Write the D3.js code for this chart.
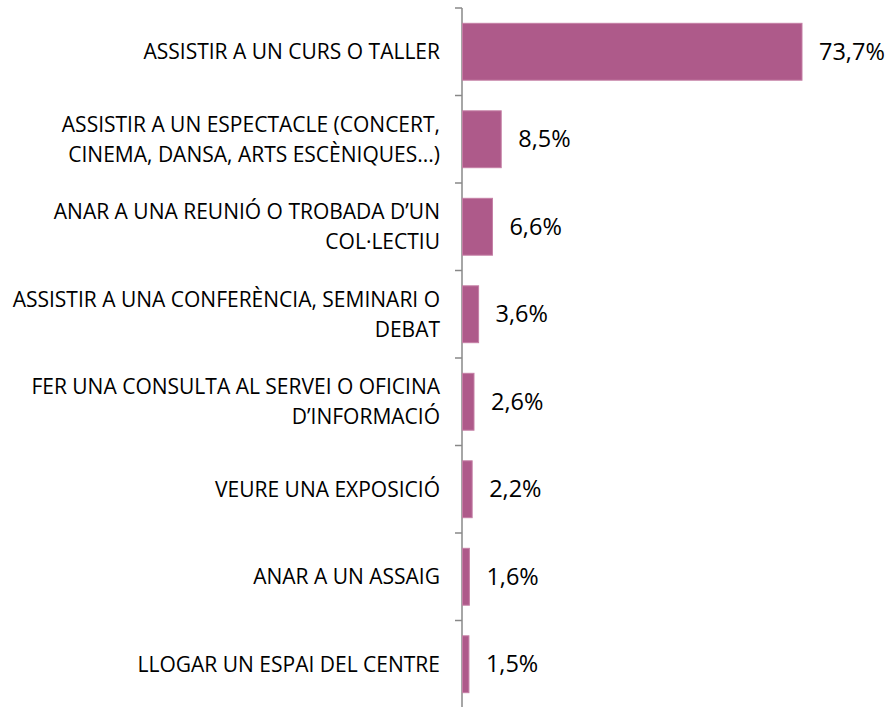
<!DOCTYPE html>
<html><head><meta charset="utf-8">
<script src="https://cdn.jsdelivr.net/npm/d3@7"></script>
<style>body{margin:0;background:#fff}svg text{font-family:"Open Sans",sans-serif;fill:#000}</style>
</head><body><svg id="c" width="889" height="707"></svg>
<script>
const categories = [
  ["ASSISTIR A UN CURS O TALLER"],
  ["ASSISTIR A UN ESPECTACLE (CONCERT,", "CINEMA, DANSA, ARTS ESCÈNIQUES...)"],
  ["ANAR A UNA REUNIÓ O TROBADA D’UN", "COL·LECTIU"],
  ["ASSISTIR A UNA CONFERÈNCIA, SEMINARI O", "DEBAT"],
  ["FER UNA CONSULTA AL SERVEI O OFICINA", "D’INFORMACIÓ"],
  ["VEURE UNA EXPOSICIÓ"],
  ["ANAR A UN ASSAIG"],
  ["LLOGAR UN ESPAI DEL CENTRE"]
];
const values = [73.7, 8.5, 6.6, 3.6, 2.6, 2.2, 1.6, 1.5];
const valueLabels = ["73,7%", "8,5%", "6,6%", "3,6%", "2,6%", "2,2%", "1,6%", "1,5%"];

const svg = d3.select("#c");
const x0 = 462;
const x = d3.scaleLinear().domain([0, 73.7]).range([x0, 802]);
const y = d3.scaleBand().domain(d3.range(categories.length)).range([8, 708]).paddingInner(0.35).paddingOuter(0.175);
const yb = d3.scaleLinear().domain([0, categories.length]).range([8, 708]);

svg.append("line").attr("x1", x0).attr("x2", x0).attr("y1", 8).attr("y2", 708)
  .attr("stroke", "#888").attr("stroke-width", 1.5);
svg.selectAll("line.tick").data(d3.range(categories.length + 1)).join("line")
  .attr("class", "tick").attr("x1", x0 - 7).attr("x2", x0)
  .attr("y1", d => yb(d)).attr("y2", d => yb(d))
  .attr("stroke", "#888").attr("stroke-width", 1.5);

svg.selectAll("rect.bar").data(values).join("rect")
  .attr("class", "bar")
  .attr("x", x0 + 0.5).attr("y", (d, i) => y(i))
  .attr("width", d => x(d) - x0 - 0.5).attr("height", y.bandwidth())
  .attr("fill", "#ae5a8a").attr("stroke", "#c47fa5").attr("stroke-width", 1);

svg.selectAll("text.val").data(values).join("text")
  .attr("class", "val")
  .attr("x", d => x(d) + 17).attr("y", (d, i) => y(i) + y.bandwidth() / 2)
  .attr("dy", "0.35em").attr("font-size", 23.5)
  .text((d, i) => valueLabels[i]);

const lh = 30;
categories.forEach((lines, i) => {
  const cy = y(i) + y.bandwidth() / 2;
  const t = svg.append("text").attr("text-anchor", "end").attr("font-size", 21);
  lines.forEach((l, j) => {
    t.append("tspan").attr("x", 440)
      .attr("y", cy + (j - (lines.length - 1) / 2) * lh)
      .attr("dy", "0.35em").text(l);
  });
});
</script></body></html>
